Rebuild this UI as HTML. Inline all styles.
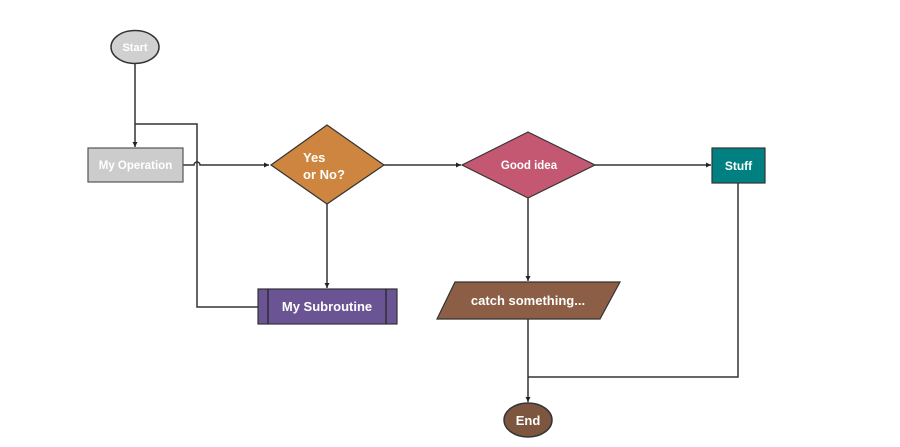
<!DOCTYPE html>
<html><head><meta charset="utf-8"><style>
html,body{margin:0;padding:0;background:#fff;}
svg{display:block;}
text{font-family:"Liberation Sans",Arial,sans-serif;font-weight:bold;fill:#fff;}
</style></head><body>
<svg width="900" height="447" viewBox="0 0 900 447" xmlns="http://www.w3.org/2000/svg">
<defs>
<marker id="a" markerWidth="6" markerHeight="6" refX="5" refY="3" orient="auto" markerUnits="userSpaceOnUse">
<path d="M0,0.5 L5,3 L0,5.5 z" fill="#222"/></marker>
</defs>
<g stroke="#333" stroke-width="1.5" fill="none">
<path d="M135,63 V147" marker-end="url(#a)"/>
<path d="M258,307 H197 V124 H135"/>
<path d="M183,165 H194 a3,3 0 0 1 6,0 H269" marker-end="url(#a)"/>
<path d="M327,204 V288" marker-end="url(#a)"/>
<path d="M384,165 H461" marker-end="url(#a)"/>
<path d="M595,165 H711" marker-end="url(#a)"/>
<path d="M528,198 V281" marker-end="url(#a)"/>
<path d="M738,183 V377 H528"/>
<path d="M528,319 V402" marker-end="url(#a)"/>
</g>
<ellipse cx="135" cy="47" rx="24" ry="16.5" fill="#d0d0d0" stroke="#333" stroke-width="1.5"/>
<text x="135" y="51" font-size="11" text-anchor="middle">Start</text>
<rect x="88" y="148" width="95" height="34" fill="#cccccc" stroke="#555" stroke-width="1.2"/>
<text x="135.5" y="169" font-size="11.5" text-anchor="middle">My Operation</text>
<polygon points="271,165 327,125 384,165 327,204" fill="#cd853f" stroke="#333" stroke-width="1.2"/>
<text x="303" y="162" font-size="13">Yes</text>
<text x="303" y="179" font-size="13">or No?</text>
<rect x="258" y="289" width="139" height="35" fill="#6a5494" stroke="#333" stroke-width="1.2"/>
<path d="M268,289 V324 M386,289 V324" stroke="#222" stroke-width="1.2"/>
<text x="327" y="311" font-size="13" text-anchor="middle">My Subroutine</text>
<polygon points="462,165 528,132 595,165 528,198" fill="#c45872" stroke="#333" stroke-width="1.2"/>
<text x="529" y="169" font-size="11.5" text-anchor="middle">Good idea</text>
<rect x="712" y="148" width="53" height="35" fill="#008080" stroke="#333" stroke-width="1.2"/>
<text x="738.5" y="170" font-size="12" text-anchor="middle">Stuff</text>
<polygon points="455,282 620,282 600,319 437,319" fill="#8b5e45" stroke="#333" stroke-width="1.2"/>
<text x="528" y="305" font-size="13" text-anchor="middle">catch something...</text>
<ellipse cx="528" cy="420" rx="24" ry="17" fill="#7d5640" stroke="#333" stroke-width="1.5"/>
<text x="528" y="425" font-size="13" text-anchor="middle">End</text>
</svg>
</body></html>
